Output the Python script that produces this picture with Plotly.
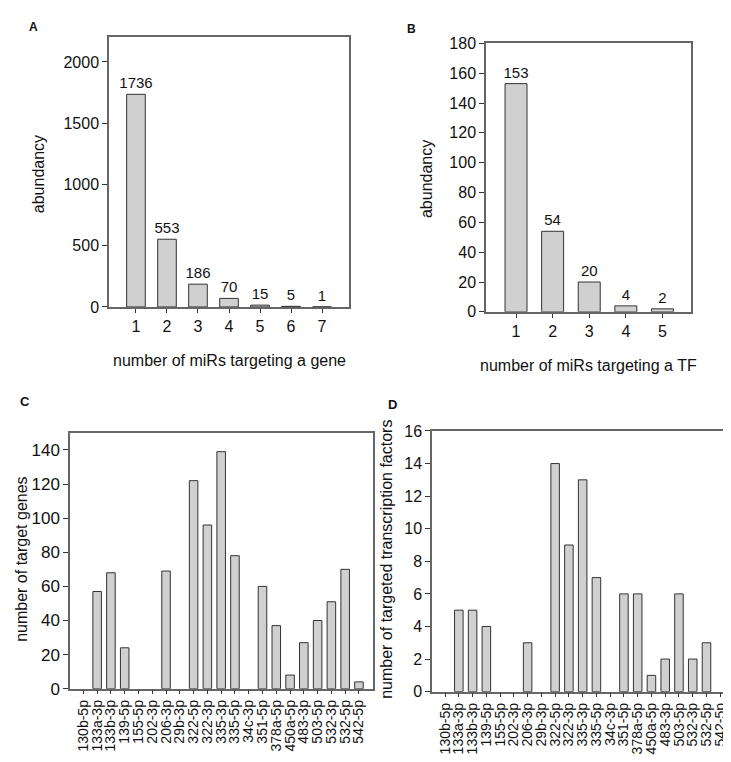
import plotly.graph_objects as go

# Panel A
a_x = [1, 2, 3, 4, 5, 6, 7]
a_y = [1736, 553, 186, 70, 15, 5, 1]
# Panel B
b_x = [1, 2, 3, 4, 5]
b_y = [153, 54, 20, 4, 2]
# Panels C and D
mirs = ["130b-5p", "133a-3p", "133b-3p", "139-5p", "155-5p", "202-3p", "206-3p",
        "29b-3p", "322-5p", "322-3p", "335-3p", "335-5p", "34c-3p", "351-5p",
        "378a-5p", "450a-5p", "483-3p", "503-5p", "532-3p", "532-5p", "542-5p"]
c_genes = [0, 57, 68, 24, 0, 0, 69, 0, 122, 96, 139, 78, 0, 60, 37, 8, 27, 40, 51, 70, 4]
d_tfs = [0, 5, 5, 4, 0, 0, 3, 0, 14, 9, 13, 7, 0, 6, 6, 1, 2, 6, 2, 3, 0]

W, H = 731, 762
FONT = "Liberation Sans, Arial, sans-serif"
FILL = "#d0d0d0"
EDGE = "#333333"
FRAME = "#666666"

def dx(a, b):
    return [a / W, b / W]

def dy(top, bottom):
    return [1 - bottom / H, 1 - top / H]

def nz(vals):
    return [v if v != 0 else None for v in vals]

fig = go.Figure()

bar_style = dict(marker=dict(color=FILL, line=dict(color=EDGE, width=1)), showlegend=False,
                 hoverinfo="x+y")

fig.add_trace(go.Bar(x=a_x, y=a_y, width=0.6, text=[str(v) for v in a_y], textposition="outside",
                     constraintext="none",
                     textfont=dict(size=15, color="#111", family=FONT), cliponaxis=False,
                     xaxis="x", yaxis="y", **bar_style))
fig.add_trace(go.Bar(x=b_x, y=b_y, width=0.6, text=[str(v) for v in b_y], textposition="outside",
                     constraintext="none",
                     textfont=dict(size=15, color="#111", family=FONT), cliponaxis=False,
                     xaxis="x2", yaxis="y2", **bar_style))
fig.add_trace(go.Bar(x=mirs, y=nz(c_genes), width=0.62, xaxis="x3", yaxis="y3", **bar_style))
fig.add_trace(go.Bar(x=mirs, y=nz(d_tfs), width=0.62, xaxis="x4", yaxis="y4", **bar_style))

def ax(size=16, **kw):
    d = dict(showline=True, linecolor=FRAME, linewidth=1.5, mirror=True, showgrid=False,
             zeroline=False, ticks="outside", ticklen=5, tickcolor="#333", tickwidth=1,
             tickfont=dict(size=size, family=FONT, color="#111"))
    d.update(kw)
    return d

fig.update_layout(
    width=W, height=H, margin=dict(l=0, r=0, t=0, b=0),
    paper_bgcolor="white", plot_bgcolor="white",
    font=dict(family=FONT, color="#111"),
    xaxis=ax(16, domain=dx(101, 341), range=[0.13, 7.87], tickmode="array", tickvals=a_x,
             ticklen=4, anchor="y"),
    yaxis=ax(16, domain=dy(22, 298), range=[0, 2200], tickmode="array",
             tickvals=[0, 500, 1000, 1500, 2000], anchor="x"),
    xaxis2=ax(16, domain=dx(478, 683), range=[0.18, 5.78], tickmode="array", tickvals=b_x,
              ticklen=4, anchor="y2"),
    yaxis2=ax(16, domain=dy(28, 303), range=[0, 180], dtick=20, anchor="x2"),
    xaxis3=ax(14, domain=dx(62, 365), range=[-0.97, 21.02], type="category", tickangle=-90,
              tickmode="array", tickvals=mirs, ticktext=mirs, ticklen=4,
              ticklabeloverflow="allow", anchor="y3"),
    yaxis3=ax(17, domain=dy(427, 689), range=[0, 150], dtick=20, anchor="x3"),
    xaxis4=ax(14, domain=dx(424, 726), range=[-0.95, 21.0], type="category", tickangle=-90,
              tickmode="array", tickvals=mirs, ticktext=mirs, ticklen=4,
              ticklabeloverflow="allow", anchor="y4"),
    yaxis4=ax(16, domain=dy(425, 692), range=[0, 16], dtick=2, anchor="x4"),
)

ann = []
def add_text(x, y, text, size=16, angle=0, bold=False):
    ann.append(dict(x=x / W, y=1 - y / H, xref="paper", yref="paper",
                    text=f"<b>{text}</b>" if bold else text,
                    showarrow=False, textangle=angle, xanchor="center", yanchor="middle",
                    font=dict(size=size, family=FONT, color="#111")))

add_text(25, 11, "A", 12, bold=True)
add_text(403, 13, "B", 12, bold=True)
add_text(17, 395, "C", 13, bold=True)
add_text(384, 398, "D", 13, bold=True)

add_text(221, 353, "number of miRs targeting a gene", 16)
add_text(580, 358, "number of miRs targeting a TF", 16)
add_text(30, 162, "abundancy", 16, angle=-90)
add_text(418, 167, "abundancy", 16, angle=-90)
add_text(14, 557, "number of target genes", 16, angle=-90)
add_text(379, 557, "number of targeted transcription factors", 16, angle=-90)

fig.update_layout(annotations=ann)
fig.write_html("out.html")
